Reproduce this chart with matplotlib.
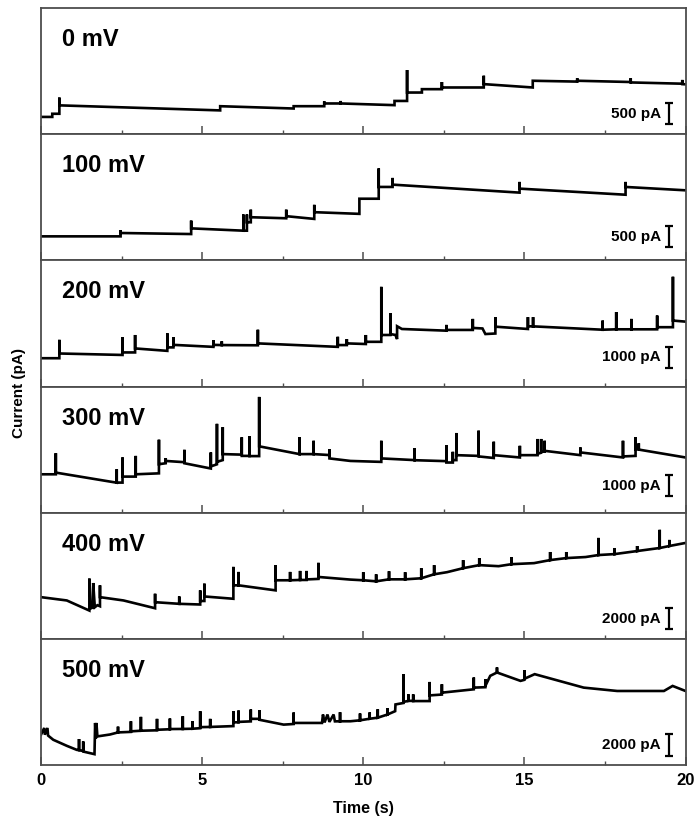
import numpy as np
import matplotlib
matplotlib.use("Agg")
import matplotlib.pyplot as plt
from matplotlib.ticker import MultipleLocator
import matplotlib.transforms as mtransforms

plt.rcParams['font.family'] = ['Liberation Sans', 'DejaVu Sans']
plt.rcParams['font.weight'] = 'bold'

# ---------------- data ----------------
voltages = ["0 mV", "100 mV", "200 mV", "300 mV", "400 mV", "500 mV"]
scale_bars_pA = [500, 500, 1000, 1000, 2000, 2000]
y_spans_pA = [3000, 3000, 6000, 6000, 12000, 12000]
x_ticks = [0, 5, 10, 15, 20]

# (time s, current pA) vertices of each recorded trace
trace_0mV = [(0, 410), (0.35, 410), (0.35, 485), (0.57, 485), (0.57, 870), (0.57, 685), (5.56, 565), (5.56, 665),
             (7.84, 610), (7.84, 665), (8.79, 665), (8.79, 780), (8.79, 730), (9.3, 730), (9.3, 790), (9.3, 730),
             (10.97, 690), (10.97, 790), (11.36, 790), (11.36, 1525), (11.36, 990), (11.82, 990), (11.82, 1070),
             (12.44, 1070), (12.44, 1240), (12.44, 1110), (13.74, 1110), (13.74, 1390), (13.74, 1190), (15.26, 1110),
             (15.26, 1270), (16.64, 1250), (16.64, 1330), (16.64, 1270), (18.3, 1240), (18.3, 1330), (18.3, 1230),
             (19.9, 1200), (19.9, 1290), (19.9, 1190), (20, 1185)]

trace_100mV = [(0, 570), (2.47, 570), (2.47, 720), (2.47, 650), (4.66, 625), (4.66, 945), (4.66, 760), (6.28, 705),
               (6.28, 1090), (6.28, 705), (6.39, 705), (6.39, 1090), (6.39, 905), (6.51, 905), (6.51, 1205),
               (6.51, 1025), (7.61, 1000), (7.61, 1205), (7.61, 1050), (8.48, 985), (8.48, 1320), (8.48, 1145),
               (9.88, 1105), (9.88, 1465), (10.48, 1465), (10.48, 2185), (10.48, 1745), (10.91, 1745), (10.91, 1960),
               (10.91, 1800), (14.85, 1610), (14.85, 1865), (14.85, 1705), (18.14, 1560), (18.14, 1865),
               (18.14, 1745), (20, 1665)]

trace_200mV = [(0, 1345), (0.57, 1345), (0.57, 2220), (0.57, 1570), (2.53, 1500), (2.53, 2340), (2.53, 1620),
               (2.92, 1620), (2.92, 2450), (2.92, 1810), (3.92, 1695), (3.92, 2530), (3.92, 1860), (4.11, 1860),
               (4.11, 2340), (4.11, 1980), (5.35, 1885), (5.35, 2210), (5.35, 1980), (5.61, 1970), (5.61, 2150),
               (5.61, 1970), (6.73, 1960), (6.73, 2700), (6.73, 2050), (9.21, 1885), (9.21, 2365), (9.21, 1970),
               (9.49, 1970), (9.49, 2255), (9.49, 2050), (10.08, 2020), (10.08, 2450), (10.08, 2125), (10.56, 2125),
               (10.56, 4740), (10.56, 2450), (10.84, 2450), (10.84, 3490), (10.84, 2495), (11.0, 2450),
               (11.05, 2255), (11.05, 2865), (11.2, 2735), (12.58, 2655), (12.58, 2930), (12.58, 2690), (13.4, 2690),
               (13.4, 3215), (13.4, 2785), (13.7, 2760), (13.79, 2495), (14.1, 2520), (14.1, 3300), (14.1, 2845),
               (15.11, 2735), (15.11, 3300), (15.11, 2865), (15.27, 2860), (15.27, 3300), (15.27, 2860),
               (17.43, 2700), (17.43, 3135), (17.43, 2700), (17.85, 2720), (17.85, 3540), (17.85, 2720),
               (18.32, 2720), (18.32, 3215), (18.32, 2720), (19.12, 2720), (19.12, 3375), (19.12, 2820),
               (19.61, 2820), (19.61, 5220), (19.61, 3135), (20, 3085)]

trace_300mV = [(0, 1825), (0.46, 1825), (0.46, 2830), (0.46, 1905), (2.35, 1425), (2.35, 2065), (2.35, 1430),
               (2.53, 1430), (2.53, 2625), (2.53, 1715), (2.94, 1715), (2.94, 2700), (2.94, 1825), (3.66, 1870),
               (3.66, 3470), (3.66, 2305), (3.87, 2350), (3.87, 2600), (3.87, 2460), (4.45, 2400), (4.45, 2990),
               (4.45, 2350), (5.27, 2100), (5.27, 2865), (5.27, 2200), (5.46, 2300), (5.46, 4225), (5.46, 2415),
               (5.64, 2500), (5.64, 4065), (5.64, 2785), (6.23, 2760), (6.23, 3585), (6.23, 2700), (6.47, 2700),
               (6.47, 3635), (6.47, 2690), (6.77, 2690), (6.77, 5505), (6.77, 3155), (8.02, 2785), (8.02, 3585),
               (8.02, 2785), (8.46, 2785), (8.46, 3420), (8.46, 2785), (8.95, 2740), (8.95, 3025), (8.95, 2580),
               (9.6, 2460), (10.56, 2415), (10.56, 3420), (10.56, 2580), (11.59, 2500), (11.59, 3070), (11.59, 2495),
               (12.58, 2450), (12.58, 3215), (12.58, 2385), (12.78, 2385), (12.78, 2895), (12.78, 2500),
               (12.89, 2500), (12.89, 3790), (12.89, 2735), (13.58, 2700), (13.58, 3900), (13.58, 2675),
               (14.05, 2600), (14.05, 3375), (14.05, 2735), (14.86, 2625), (14.86, 3180), (14.86, 2735),
               (15.41, 2735), (15.41, 3505), (15.41, 2800), (15.52, 2850), (15.52, 3505), (15.52, 2900),
               (15.63, 2900), (15.63, 3420), (15.63, 2940), (16.74, 2735), (16.74, 3100), (16.74, 2865),
               (18.06, 2625), (18.06, 3420), (18.06, 2675), (18.45, 2700), (18.45, 3585), (18.45, 3025),
               (18.55, 3025), (18.55, 3300), (18.55, 3000), (20, 2625)]

trace_400mV = [(0, 3965), (0.8, 3650), (1.5, 2690), (1.5, 5730), (1.55, 2900), (1.62, 3000), (1.62, 5310),
               (1.67, 3005), (1.75, 3200), (1.83, 3100), (1.83, 5090), (1.83, 3965), (2.56, 3650), (3.54, 2910),
               (3.54, 4290), (3.54, 3485), (4.29, 3330), (4.29, 4030), (4.29, 3330), (4.94, 3265), (4.94, 4610),
               (4.94, 3600), (5.07, 3600), (5.07, 5250), (5.07, 4030), (5.97, 3810), (5.97, 6845), (5.97, 5090),
               (6.13, 5090), (6.13, 6365), (6.13, 5090), (7.28, 4610), (7.28, 7010), (7.28, 5570), (7.73, 5570),
               (7.73, 6365), (7.73, 5570), (8.04, 5600), (8.04, 6460), (8.04, 5600), (8.24, 5600), (8.24, 6460),
               (8.24, 5650), (8.61, 5700), (8.61, 7230), (8.61, 5885), (9.6, 5635), (10.0, 5570), (10.0, 6340),
               (10.0, 5570), (10.4, 5470), (10.4, 6140), (10.4, 5470), (10.8, 5660), (10.8, 6430), (10.8, 5660),
               (11.3, 5660), (11.3, 6340), (11.3, 5660), (11.8, 5760), (11.8, 6720), (11.8, 5760), (12.2, 6140),
               (12.2, 7010), (12.2, 6140), (12.6, 6340), (13.1, 6720), (13.1, 7490), (13.1, 6720), (13.6, 7010),
               (13.6, 7680), (13.6, 7010), (14.2, 6910), (14.6, 7100), (14.6, 7780), (14.6, 7100), (15.3, 7200),
               (15.8, 7490), (15.8, 8260), (15.8, 7490), (16.3, 7680), (16.3, 8260), (16.3, 7680), (16.9, 7780),
               (17.3, 7970), (17.3, 9600), (17.3, 7970), (17.8, 8060), (17.8, 8640), (17.8, 8060), (18.5, 8350),
               (18.5, 8830), (18.5, 8350), (19.2, 8640), (19.2, 10370), (19.2, 8640), (19.5, 8830), (19.5, 9410),
               (19.5, 8830), (20, 9120)]

trace_500mV = [(0, 2880), (0.1, 3520), (0.12, 2880), (0.2, 3520), (0.22, 2800), (0.38, 2400), (0.8, 1825),
               (1.11, 1440), (1.18, 1440), (1.18, 2470), (1.18, 1400), (1.31, 1350), (1.31, 2240), (1.31, 1280),
               (1.66, 1030), (1.68, 4000), (1.7, 2500), (1.72, 4000), (1.75, 2720), (2.14, 2900), (2.39, 3100),
               (2.39, 3650), (2.39, 3100), (2.79, 3150), (2.79, 4160), (2.79, 3200), (3.1, 3260), (3.1, 4580),
               (3.1, 3260), (3.6, 3300), (3.6, 4390), (3.6, 3350), (4.0, 3400), (4.0, 4420), (4.0, 3420),
               (4.4, 3430), (4.4, 4640), (4.4, 3430), (4.7, 3450), (4.7, 4160), (4.7, 3450), (4.94, 3500),
               (4.94, 5120), (4.94, 3600), (5.25, 3620), (5.25, 4390), (5.25, 3620), (5.97, 3700), (5.97, 5120),
               (5.97, 4060), (6.13, 4060), (6.13, 5180), (6.13, 4100), (6.51, 4150), (6.51, 5280), (6.51, 4390),
               (6.78, 4390), (6.78, 5210), (6.78, 4300), (7.53, 3840), (7.84, 3900), (7.84, 4990), (7.84, 4000),
               (8.72, 4000), (8.75, 4800), (8.8, 4050), (8.89, 4800), (8.95, 4100), (9.08, 4800), (9.12, 4150),
               (9.28, 4160), (9.28, 5020), (9.28, 4160), (9.6, 4160), (9.9, 4250), (9.9, 4900), (9.9, 4250),
               (10.2, 4400), (10.2, 5000), (10.2, 4400), (10.45, 4500), (10.45, 5300), (10.45, 4500), (10.75, 4800),
               (10.75, 5400), (10.75, 4800), (10.99, 5120), (11.0, 5760), (11.25, 5900), (11.25, 8640),
               (11.25, 6000), (11.4, 6100), (11.4, 6720), (11.4, 6100), (11.55, 6100), (11.55, 6720), (11.55, 6080),
               (12.06, 6080), (12.06, 7900), (12.06, 6620), (12.44, 6700), (12.44, 7680), (12.44, 6880),
               (13.43, 7200), (13.43, 8320), (13.43, 7360), (13.79, 7400), (13.79, 8160), (13.79, 7520),
               (13.94, 8480), (14.15, 8800), (14.15, 9280), (14.15, 8800), (14.88, 8000), (15.0, 8100),
               (15.0, 9020), (15.0, 8200), (15.32, 8640), (16.84, 7360), (17.88, 7040), (19.33, 7040),
               (19.6, 7520), (20, 7040)]

traces = [trace_0mV, trace_100mV, trace_200mV, trace_300mV, trace_400mV, trace_500mV]

# ---------------- layout ----------------
W, H = 697, 819
fig = plt.figure(figsize=(W / 100, H / 100), dpi=100)
left_px, right_px, top_px, bottom_px = 41, 685.5, 8, 765
panel_h = (bottom_px - top_px) / 6
bar_center_px = [20.5, 23.5, 29, 27, 20, 20]   # scale-bar centre above panel bottom (px)

spine_col = '#4d4d4d'
axes = []
for k in range(6):
    pb = top_px + (k + 1) * panel_h
    ax = fig.add_axes([left_px / W, 1 - pb / H, (right_px - left_px) / W, panel_h / H])
    axes.append(ax)
    data = np.array(traces[k], dtype=float)
    ax.plot(data[:, 0], data[:, 1], color='black', lw=1.9, solid_joinstyle='miter')
    ax.set_xlim(0, 20)
    ax.set_ylim(0, y_spans_pA[k])
    ax.set_yticks([])
    ax.xaxis.set_major_locator(MultipleLocator(5))
    ax.xaxis.set_minor_locator(MultipleLocator(2.5))
    ax.tick_params(axis='x', which='major', direction='in', length=6, width=1.1, color=spine_col,
                   labelsize=12, pad=6, labelbottom=(k == 5))
    ax.tick_params(axis='x', which='minor', direction='in', length=3, width=1.0, color=spine_col)
    for s in ax.spines.values():
        s.set_color(spine_col)
        s.set_linewidth(1.3)
    if k == 5:
        ax.set_xticks(x_ticks)
        for lab in ax.get_xticklabels():
            lab.set_fontweight('bold')
    ax.text(0.033, 0.75, voltages[k], transform=ax.transAxes, fontsize=17,
            fontweight='bold', ha='left', va='center')
    # scale bar
    trans = mtransforms.blended_transform_factory(ax.transAxes, ax.transData)
    yc = bar_center_px[k] * y_spans_pA[k] / panel_h
    y0, y1 = yc - scale_bars_pA[k] / 2, yc + scale_bars_pA[k] / 2
    xb, dx = 0.9744, 0.0065
    ax.plot([xb, xb], [y0, y1], transform=trans, color='black', lw=1.6, solid_capstyle='butt')
    ax.plot([xb - dx, xb + dx], [y0, y0], transform=trans, color='black', lw=1.6, solid_capstyle='butt')
    ax.plot([xb - dx, xb + dx], [y1, y1], transform=trans, color='black', lw=1.6, solid_capstyle='butt')
    ax.text(0.962, yc, f"{scale_bars_pA[k]} pA", transform=trans, fontsize=11, fontweight='bold',
            ha='right', va='center')

fig.text(363 / W, 1 - 808 / H, "Time (s)", fontsize=11.5, fontweight='bold', ha='center', va='center')
fig.text(19 / W, 1 - 393 / H, "Current (pA)", fontsize=11, fontweight='bold', ha='center', va='center',
         rotation=90)

fig.savefig("out.png", dpi=100)
